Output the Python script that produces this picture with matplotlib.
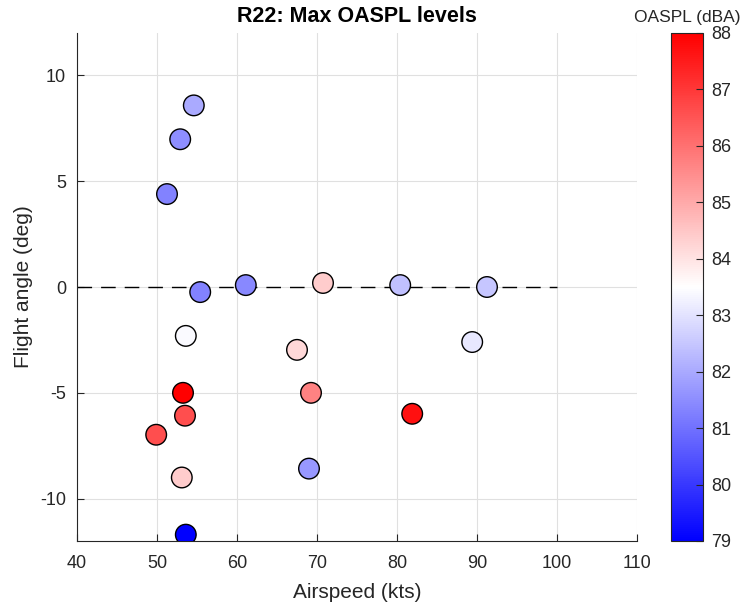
import numpy as np
import matplotlib.pyplot as plt
from matplotlib.colors import LinearSegmentedColormap

plt.rcParams['font.family'] = ['Liberation Sans', 'DejaVu Sans']
plt.rcParams['axes.unicode_minus'] = False

# R22 flights: airspeed, flight angle, max OASPL
airspeed = [54.6, 52.9, 51.25, 55.4, 61.1, 70.75, 80.4, 91.25, 53.6, 67.5,
            89.4, 53.25, 69.25, 81.9, 53.5, 49.9, 69.0, 53.1, 53.6]
angle = [8.58, 6.98, 4.39, -0.24, 0.09, 0.19, 0.09, 0.0, -2.31, -2.97,
         -2.6, -5.0, -5.0, -5.99, -6.08, -6.98, -8.58, -9.0, -11.7]
oaspl = [82.0, 81.5, 81.3, 81.3, 81.4, 84.4, 82.4, 82.5, 83.4, 84.2,
         83.1, 88.0, 85.7, 87.7, 86.6, 86.6, 81.7, 84.4, 79.0]

cmin, cmax = 79, 88
mid = (83.5 - cmin) / (cmax - cmin)
cmap = LinearSegmentedColormap.from_list('bwr2', [(0, (0, 0, 1)), (mid, (1, 1, 1)), (1, (1, 0, 0))], N=256)

txt = (0.15, 0.15, 0.15)
fig = plt.figure(figsize=(7.41, 6.02), dpi=100)
ax = fig.add_axes([77 / 741, 61 / 602, 560 / 741, 508 / 602])

ax.plot([40, 100], [0, 0], color='k', lw=1.0, linestyle=(0, (10.5, 6.5)), zorder=2)
sc = ax.scatter(airspeed, angle, c=oaspl, cmap=cmap, vmin=cmin, vmax=cmax,
                s=220, edgecolors='k', linewidths=1.0, zorder=3)

ax.set_xlim(40, 110)
ax.set_ylim(-12, 12)
ax.set_xticks(np.arange(40, 111, 10))
ax.set_yticks([-10, -5, 0, 5, 10])
ax.grid(True, color=(0.88, 0.88, 0.88), lw=0.8)
ax.set_axisbelow(True)
for s in ['top', 'right']:
    ax.spines[s].set_visible(False)
for s in ['left', 'bottom']:
    ax.spines[s].set_color(txt)
ax.tick_params(direction='in', length=5, labelsize=13, colors=txt)
ax.tick_params(axis='x', pad=10)
ax.tick_params(axis='y', pad=8)
ax.set_xlabel('Airspeed (kts)', fontsize=15, color=txt, labelpad=8)
ax.set_ylabel('Flight angle (deg)', fontsize=15, color=txt, labelpad=5)
ax.set_title('R22: Max OASPL levels', fontsize=15.5, fontweight='bold', pad=8)

cax = fig.add_axes([671 / 741, 61 / 602, 32 / 741, 508 / 602])
cb = fig.colorbar(sc, cax=cax)
cb.set_ticks(np.arange(79, 89, 1))
cb.ax.tick_params(direction='in', length=5, labelsize=13, colors=txt, pad=6)
cb.outline.set_edgecolor(txt)
cax.set_title('OASPL (dBA)', fontsize=12.5, color=txt, pad=8)

plt.savefig('out.png', dpi=100)
